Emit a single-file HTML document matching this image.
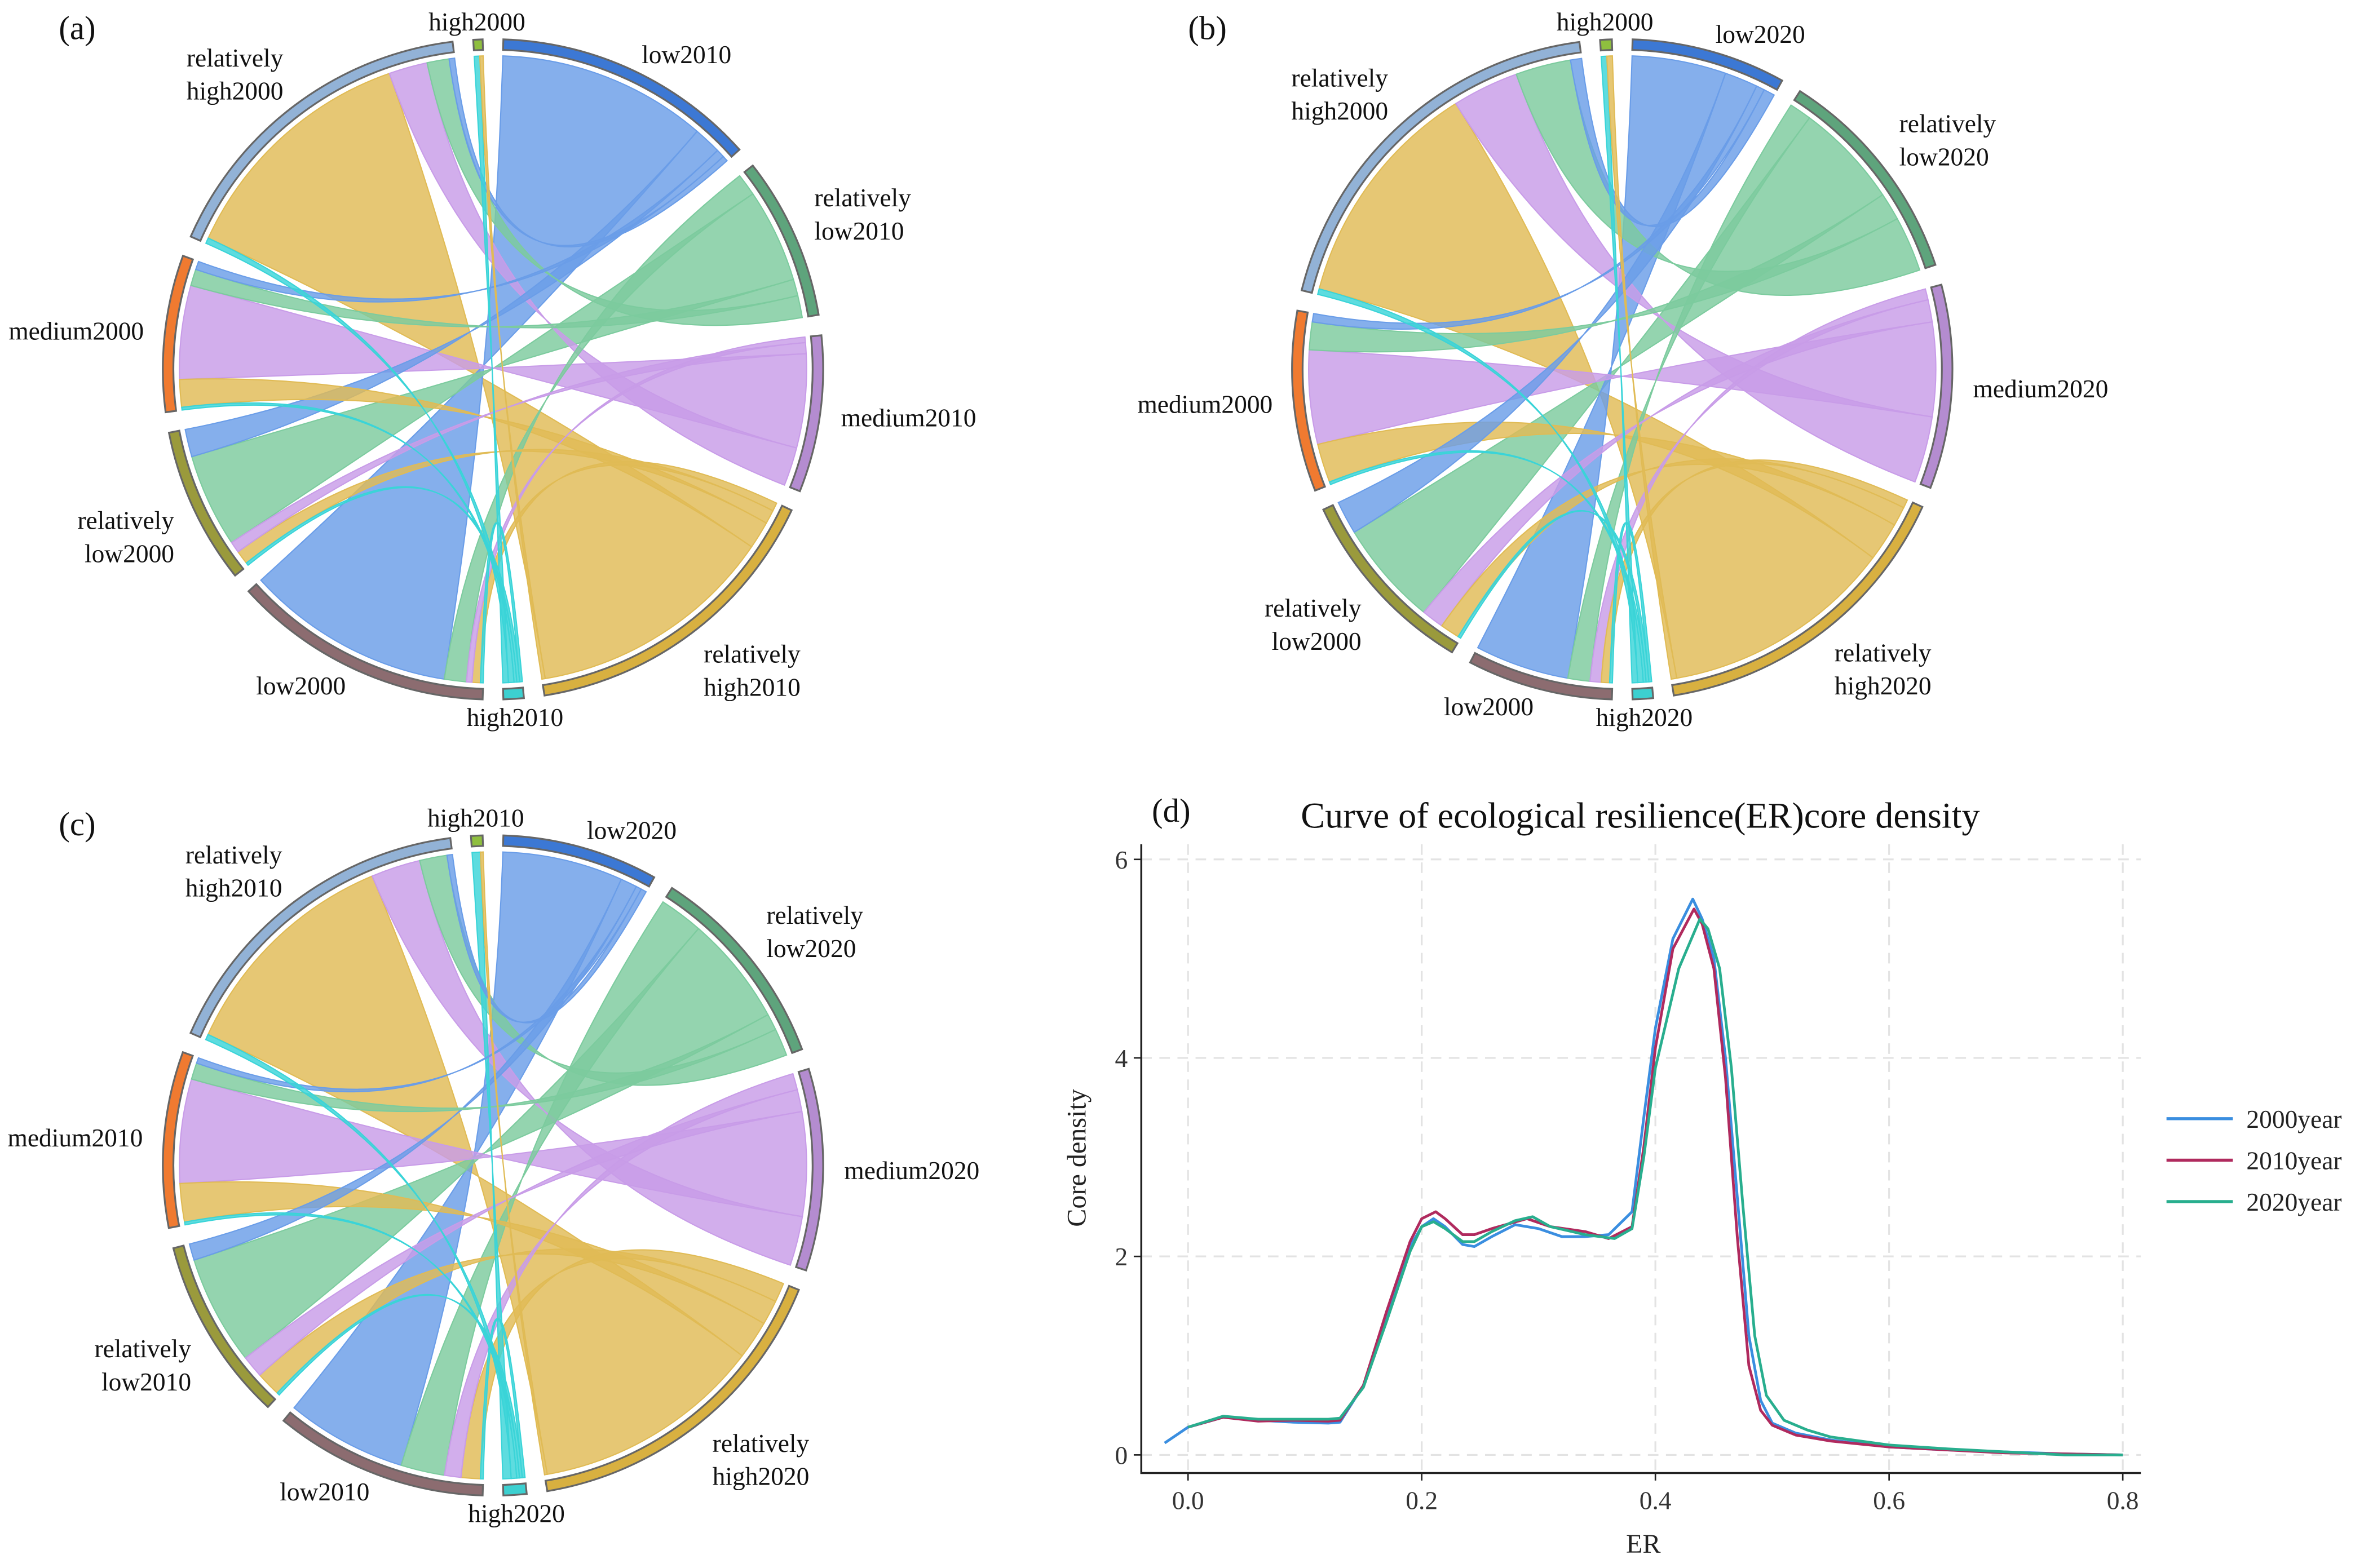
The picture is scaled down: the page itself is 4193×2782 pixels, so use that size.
<!DOCTYPE html>
<html><head><meta charset="utf-8"><style>
html,body{margin:0;padding:0;background:#fff;}
svg{display:block;font-family:"Liberation Serif",serif;}
</style></head><body>
<svg id="fig" width="4193" height="2782" viewBox="0 0 1568 1040" preserveAspectRatio="none" xmlns="http://www.w3.org/2000/svg">
<rect width="1568" height="1040" fill="#fff"/>
<g id="chords"></g>
<g id="density"></g>
</svg>
<script>
// ---------- chord data ----------
const levels = ["low","relatively low","medium","relatively high","high"];
const flowsA = [[38,4,1,1.5,0.5],[5,17,2,2.5,0.5],[1.5,3,17,5,0.5],[1,4,7,45,1],[0,0,0,0.6,1]];
const flowsB = [[17,4,2,1.5,0.5],[6,19,4,3.5,0.5],[1.5,5,17,7,0.5],[2,10,12,42,1],[0,0,0,1,1]];
const flowsC = [[22,8,3,3.5,0.5],[3,20,4,4.5,0.5],[1,3,19,7,0.5],[1,5,9,42,1],[0,0,0,0.5,1.5]];
const linkColors = ["#6a9de8","#7ccb9e","#c89ce8","#e0bb55","#3ad4d8"];
const toTrack = ["#3c78d4","#5ea47c","#b48cd0","#d8b040","#3cd0d0"];
const fromTrack = ["#8c6c70","#9a9a3c","#f07a30","#92b2d6","#8fbf3f"];

const NS="http://www.w3.org/2000/svg";
function mk(tag,attrs,parent){const e=document.createElementNS(NS,tag);for(const k in attrs)e.setAttribute(k,attrs[k]);parent.appendChild(e);return e;}
function P(cx,cy,r,a){const t=a*Math.PI/180;return [cx+r*Math.sin(t),cy-r*Math.cos(t)];}

function chord(panel,cx,cy,flows,fromYear,toYear,label){
  const root=document.getElementById('chords');
  const g=mk('g',{},root);
  
  
  const R=208, T0=212, T1=219, CR=0.32*R;
  const fromTot=flows.map(r=>r.reduce((a,b)=>a+b,0));
  const toTot=levels.map((_,j)=>flows.reduce((a,r)=>a+r[j],0));
  const total=fromTot.reduce((a,b)=>a+b,0)+toTot.reduce((a,b)=>a+b,0);
  const gap=3.6, k=(360-10*gap)/total;
  let ang=gap/2;
  const toSpan=[],fromSpan=[];
  for(let j=0;j<5;j++){toSpan[j]=[ang,ang+toTot[j]*k];ang+=toTot[j]*k+gap;}
  for(let i=0;i<5;i++){fromSpan[i]=[ang,ang+fromTot[i]*k];ang+=fromTot[i]*k+gap;}
  const fromPos=fromSpan.map(s=>s[0]), toPos=toSpan.map(s=>s[0]);
  const links=[];
  for(let i=0;i<5;i++){for(let j=4;j>=0;j--){const v=flows[i][j];if(!v)continue;const a0=fromPos[i];fromPos[i]+=v*k;links.push({i,j,v,s:[a0,fromPos[i]]});}}
  for(let j=0;j<5;j++){for(let i=0;i<5;i++){const L=links.find(l=>l.i===i&&l.j===j);if(!L)continue;const a0=toPos[j];toPos[j]+=L.v*k;L.t=[a0,toPos[j]];}}
  links.sort((a,b)=>b.v-a.v);
  const lg=mk('g',{},g);
  links.forEach(L=>{
    const s0=P(cx,cy,R,L.s[0]),s1=P(cx,cy,R,L.s[1]),t0=P(cx,cy,R,L.t[0]),t1=P(cx,cy,R,L.t[1]);
    const cs0=P(cx,cy,CR,L.s[0]),cs1=P(cx,cy,CR,L.s[1]),ct0=P(cx,cy,CR,L.t[0]),ct1=P(cx,cy,CR,L.t[1]);
    const ls=(L.s[1]-L.s[0])>180?1:0, lt=(L.t[1]-L.t[0])>180?1:0;
    const d=`M${s0}A${R},${R} 0 ${ls} 1 ${s1}C${cs1} ${ct1} ${t1}A${R},${R} 0 ${lt} 0 ${t0}C${ct0} ${cs0} ${s0}Z`;
    const p=mk('path',{d,fill:linkColors[L.j],'fill-opacity':0.82,stroke:linkColors[L.j],'stroke-width':0.8},lg);
    
    
  });
  function track(span,color,name){
    const a0=span[0],a1=span[1];const lf=(a1-a0)>180?1:0;
    const o0=P(cx,cy,T1,a0),o1=P(cx,cy,T1,a1),i1=P(cx,cy,T0,a1),i0=P(cx,cy,T0,a0);
    const p=mk('path',{d:`M${o0}A${T1},${T1} 0 ${lf} 1 ${o1}L${i1}A${T0},${T0} 0 ${lf} 0 ${i0}Z`,fill:color,stroke:'#666','stroke-width':1.2},g);
    
    
    const m=(a0+a1)/2;const [lx,ly]=P(cx,cy,T1+14,m);
    const sx=Math.sin(m*Math.PI/180);
    let anchor=Math.abs(sx)<0.25?'middle':(sx>0?'start':'end');
    const parts=name.startsWith('relatively')?['relatively',name.slice(11)]:[name.replace(' ','')];
    const tx=mk('text',{x:lx,y:ly,'font-size':17,'text-anchor':anchor,fill:'#111'},g);
    
    
    const cy2=Math.cos(m*Math.PI/180);
    const dy0=parts.length===2?(cy2>0.3?-14:(cy2<-0.3?8:-4)):(cy2>0.9?8:(cy2<-0.9?4:(cy2>0.5?-2:(cy2<-0.5?10:6))));
    parts.forEach((pt,ix)=>{const ts=mk('tspan',{x:lx,dy:ix===0?dy0:22},tx);ts.textContent=pt;});
  }
  for(let j=0;j<5;j++)track(toSpan[j],toTrack[j],levels[j]+toYear);
  for(let i=0;i<5;i++)track(fromSpan[i],fromTrack[i],levels[i]+fromYear);
  const t=mk('text',{x:cx-288,y:cy-219,'font-size':22,fill:'#111'},g);t.textContent=label;
  
  
}
chord('a',327,245,flowsA,'2000','2010','(a)');
chord('b',1076,245,flowsB,'2000','2020','(b)');
chord('c',327,773,flowsC,'2010','2020','(c)');

// ---------- density data ----------
const x2000=[-0.02,0,0.03,0.06,0.09,0.12,0.13,0.15,0.17,0.19,0.2,0.21,0.22,0.235,0.245,0.26,0.28,0.3,0.32,0.34,0.36,0.38,0.39,0.4,0.415,0.432,0.44,0.45,0.46,0.47,0.48,0.49,0.5,0.52,0.55,0.6,0.65,0.7,0.75,0.8];
const y2000=[0.12,0.28,0.38,0.35,0.33,0.32,0.33,0.7,1.4,2.1,2.3,2.38,2.3,2.12,2.1,2.2,2.32,2.28,2.2,2.2,2.22,2.45,3.4,4.3,5.2,5.6,5.4,5.0,4.0,2.6,1.2,0.55,0.32,0.22,0.15,0.08,0.05,0.03,0.01,0];
const x2010=[0,0.03,0.06,0.09,0.12,0.13,0.15,0.17,0.19,0.2,0.212,0.22,0.235,0.245,0.26,0.29,0.31,0.34,0.36,0.38,0.39,0.4,0.415,0.433,0.44,0.45,0.46,0.47,0.48,0.49,0.5,0.52,0.55,0.6,0.65,0.7,0.75,0.8];
const y2010=[0.28,0.38,0.34,0.35,0.34,0.35,0.7,1.45,2.15,2.38,2.45,2.38,2.22,2.22,2.28,2.38,2.3,2.25,2.18,2.3,3.1,4.1,5.1,5.5,5.35,4.9,3.8,2.2,0.9,0.45,0.3,0.2,0.14,0.08,0.05,0.02,0.01,0];
const x2020=[0,0.03,0.06,0.09,0.12,0.13,0.15,0.17,0.19,0.2,0.21,0.22,0.235,0.245,0.26,0.28,0.295,0.31,0.34,0.365,0.38,0.39,0.4,0.42,0.438,0.445,0.455,0.465,0.475,0.485,0.495,0.51,0.53,0.55,0.6,0.65,0.7,0.75,0.8];
const y2020=[0.28,0.39,0.36,0.36,0.36,0.37,0.68,1.35,2.05,2.3,2.35,2.28,2.15,2.15,2.25,2.36,2.4,2.3,2.22,2.18,2.28,3.0,3.9,4.9,5.4,5.3,4.9,3.9,2.5,1.2,0.6,0.35,0.25,0.18,0.1,0.06,0.03,0.0,0];
const xTicks=[0,0.2,0.4,0.6,0.8];
const yTicks=[0,2,4,6];
const seriesNames=["2000year","2010year","2020year"];
const seriesColors=["#3a8ee0","#b02a5e","#28ae8e"];

(function(){
  const g=document.getElementById('density');
  const X=v=>788+(v-0)*(1408-788)/0.8;
  const Y=v=>965-v*(965-570)/6;
  yTicks.forEach(v=>{const l=mk('line',{x1:757,x2:1420,y1:Y(v),y2:Y(v),stroke:'#e3e3e3','stroke-width':1.2,'stroke-dasharray':'7 5'},g);});
  xTicks.forEach(v=>{const l=mk('line',{x1:X(v),x2:X(v),y1:560,y2:977,stroke:'#e3e3e3','stroke-width':1.2,'stroke-dasharray':'7 5'},g);});
  const ax=mk('path',{d:'M757,560V977H1420',fill:'none',stroke:'#222','stroke-width':1.3},g);
  
  yTicks.forEach(v=>{mk('line',{x1:752,x2:757,y1:Y(v),y2:Y(v),stroke:'#222'},g);const t=mk('text',{x:748,y:Y(v)+6,'font-size':17,'text-anchor':'end',fill:'#333'},g);t.textContent=v;});
  xTicks.forEach(v=>{mk('line',{x1:X(v),x2:X(v),y1:977,y2:982,stroke:'#222'},g);const t=mk('text',{x:X(v),y:1001,'font-size':17,'text-anchor':'middle',fill:'#333'},g);t.textContent=v.toFixed(1);});
  const xs=[x2000,x2010,x2020],ys=[y2000,y2010,y2020];
  xs.forEach((xa,s)=>{
    const d=xa.map((x,i)=>(i?'L':'M')+X(x).toFixed(1)+','+Y(ys[s][i]).toFixed(1)).join('');
    const p=mk('path',{d,fill:'none',stroke:seriesColors[s],'stroke-width':1.8,'stroke-linejoin':'round'},g);
    
    
    const ly=742+s*27.5;
    const ll=mk('line',{x1:1437,x2:1481,y1:ly,y2:ly,stroke:seriesColors[s],'stroke-width':2},g);
    
    const lt=mk('text',{x:1490,y:ly+6,'font-size':17,fill:'#222'},g);lt.textContent=seriesNames[s];
    
  });
  const tt=mk('text',{x:1088,y:549,'font-size':24,'text-anchor':'middle',fill:'#111'},g);tt.textContent='Curve of ecological resilience(ER)core density';
  
  const pl=mk('text',{x:764,y:545,'font-size':22,fill:'#111'},g);pl.textContent='(d)';
  
  const xl=mk('text',{x:1090,y:1030,'font-size':18,'text-anchor':'middle',fill:'#222'},g);xl.textContent='ER';
  
  const yl=mk('text',{x:0,y:0,'font-size':18,'text-anchor':'middle',fill:'#222',transform:'translate(720,768) rotate(-90)'},g);yl.textContent='Core density';
  
})();
</script>
</body></html>
